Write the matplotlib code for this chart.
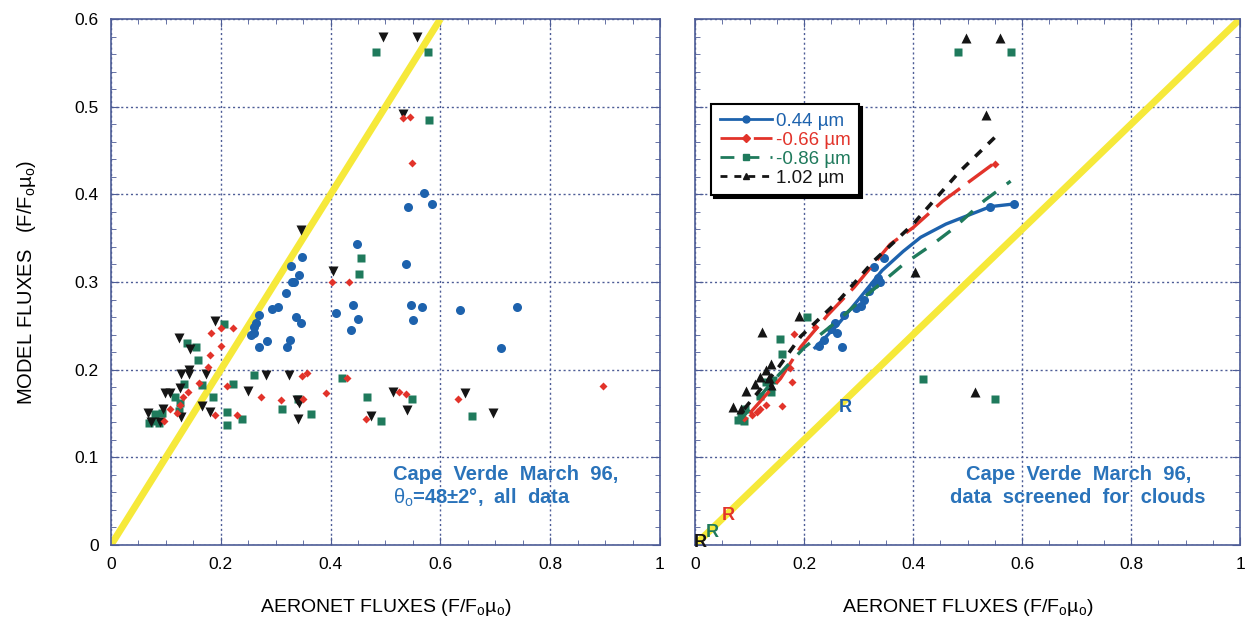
import numpy as np
import matplotlib
matplotlib.use('Agg')
import matplotlib.pyplot as plt
from matplotlib.lines import Line2D
from matplotlib.ticker import MultipleLocator, FuncFormatter

plt.rcParams['font.family'] = ['Liberation Sans', 'DejaVu Sans']
plt.rcParams['mathtext.fontset'] = 'custom'
plt.rcParams['mathtext.rm'] = 'Liberation Sans'
plt.rcParams['mathtext.it'] = 'Liberation Sans'

# ---- left panel: all data ----
l_blue_x = [0.570, 0.541, 0.585, 0.448, 0.348, 0.328, 0.537, 0.343, 0.329, 0.333, 0.319, 0.293, 0.305,
            0.270, 0.337, 0.346, 0.265, 0.261, 0.260, 0.285, 0.269, 0.326, 0.321, 0.410, 0.440, 0.450,
            0.437, 0.546, 0.566, 0.550, 0.635, 0.739, 0.711, 0.255]
l_blue_y = [0.401, 0.386, 0.389, 0.343, 0.328, 0.318, 0.321, 0.308, 0.300, 0.300, 0.288, 0.269, 0.271,
            0.262, 0.260, 0.253, 0.253, 0.249, 0.242, 0.233, 0.226, 0.234, 0.226, 0.265, 0.274, 0.258,
            0.245, 0.274, 0.271, 0.257, 0.268, 0.272, 0.225, 0.240]

l_red_x = [0.532, 0.545, 0.548, 0.402, 0.434, 0.182, 0.201, 0.223, 0.201, 0.181, 0.177, 0.348, 0.357,
           0.429, 0.212, 0.274, 0.131, 0.309, 0.350, 0.392, 0.525, 0.537, 0.632, 0.896, 0.465, 0.230,
           0.190, 0.108, 0.097, 0.125, 0.160, 0.140, 0.120]
l_red_y = [0.487, 0.488, 0.436, 0.300, 0.300, 0.242, 0.247, 0.248, 0.227, 0.217, 0.203, 0.193, 0.196,
           0.190, 0.181, 0.169, 0.169, 0.165, 0.167, 0.173, 0.175, 0.172, 0.166, 0.181, 0.144, 0.148,
           0.148, 0.155, 0.142, 0.160, 0.185, 0.175, 0.150]

l_green_x = [0.482, 0.577, 0.579, 0.456, 0.451, 0.205, 0.139, 0.155, 0.158, 0.133, 0.165, 0.261, 0.420,
             0.222, 0.185, 0.117, 0.126, 0.341, 0.466, 0.549, 0.657, 0.492, 0.365, 0.312, 0.238, 0.212,
             0.212, 0.124, 0.081, 0.093, 0.075, 0.088, 0.070]
l_green_y = [0.562, 0.562, 0.485, 0.327, 0.309, 0.252, 0.230, 0.226, 0.211, 0.184, 0.183, 0.194, 0.190,
             0.184, 0.169, 0.169, 0.162, 0.167, 0.169, 0.167, 0.147, 0.141, 0.149, 0.155, 0.144, 0.152,
             0.137, 0.153, 0.149, 0.151, 0.141, 0.139, 0.139]

l_black_x = [0.495, 0.558, 0.532, 0.346, 0.404, 0.190, 0.123, 0.143, 0.142, 0.142, 0.127, 0.173, 0.282,
             0.324, 0.250, 0.099, 0.108, 0.125, 0.338, 0.343, 0.513, 0.645, 0.696, 0.539, 0.474, 0.341,
             0.180, 0.165, 0.127, 0.067, 0.073, 0.089, 0.094]
l_black_y = [0.580, 0.579, 0.492, 0.359, 0.313, 0.255, 0.236, 0.223, 0.200, 0.195, 0.195, 0.195, 0.194,
             0.194, 0.176, 0.173, 0.173, 0.179, 0.165, 0.162, 0.175, 0.173, 0.150, 0.154, 0.147, 0.144,
             0.152, 0.159, 0.146, 0.151, 0.140, 0.140, 0.155]

# ---- right panel: screened for clouds ----
r_blue_x = [0.585, 0.542, 0.347, 0.328, 0.335, 0.330, 0.340, 0.305, 0.295, 0.273, 0.256, 0.250, 0.227,
            0.269, 0.260, 0.236, 0.310, 0.320]
r_blue_y = [0.389, 0.386, 0.327, 0.317, 0.305, 0.298, 0.300, 0.273, 0.270, 0.262, 0.253, 0.246, 0.227,
            0.226, 0.242, 0.234, 0.280, 0.290]

r_red_x = [0.182, 0.221, 0.175, 0.177, 0.159, 0.114, 0.104, 0.130, 0.120, 0.090, 0.550]
r_red_y = [0.241, 0.249, 0.202, 0.186, 0.159, 0.152, 0.148, 0.160, 0.155, 0.145, 0.435]

r_green_x = [0.482, 0.579, 0.419, 0.550, 0.205, 0.156, 0.159, 0.143, 0.130, 0.091, 0.078, 0.089, 0.085,
             0.140, 0.120]
r_green_y = [0.562, 0.562, 0.189, 0.166, 0.260, 0.235, 0.218, 0.188, 0.186, 0.155, 0.143, 0.142, 0.148,
             0.175, 0.170]

r_black_x = [0.497, 0.559, 0.533, 0.404, 0.513, 0.190, 0.123, 0.139, 0.130, 0.120, 0.110, 0.094, 0.070,
             0.084, 0.139, 0.135]
r_black_y = [0.578, 0.578, 0.491, 0.311, 0.174, 0.261, 0.243, 0.206, 0.200, 0.192, 0.184, 0.176, 0.157,
             0.155, 0.182, 0.190]

# fitted curves
fit_blue_x = [0.22, 0.26, 0.30, 0.343, 0.382, 0.414, 0.46, 0.505, 0.542, 0.585]
fit_blue_y = [0.225, 0.250, 0.280, 0.313, 0.335, 0.351, 0.366, 0.377, 0.386, 0.389]
fit_red_x = [0.10, 0.157, 0.194, 0.243, 0.292, 0.358, 0.40, 0.454, 0.55]
fit_red_y = [0.150, 0.190, 0.226, 0.262, 0.294, 0.343, 0.362, 0.392, 0.436]
fit_green_x = [0.08, 0.14, 0.20, 0.26, 0.317, 0.382, 0.436, 0.472, 0.531, 0.579]
fit_green_y = [0.140, 0.185, 0.225, 0.255, 0.286, 0.320, 0.343, 0.360, 0.393, 0.415]
fit_black_x = [0.09, 0.15, 0.194, 0.267, 0.328, 0.40, 0.484, 0.555]
fit_black_y = [0.155, 0.200, 0.238, 0.281, 0.324, 0.366, 0.425, 0.468]

# reference lines
left_ref_x = [0, 0.6]
left_ref_y = [0, 0.6]
right_ref_x = [0, 1.0]
right_ref_y = [0, 0.6]

# "R" markers
rmark_x = [0.276, 0.061, 0.031, 0.009]
rmark_y = [0.157, 0.034, 0.014, 0.003]

wavelengths = ['0.44 µm', '-0.66 µm', '-0.86 µm', '1.02 µm']

BLUE = '#1d62ad'
RED = '#e2332a'
GREEN = '#1f7a5c'
BLACK = '#151515'
YELLOW = '#f6e93a'
TXTBLUE = '#2a73ba'
AXC = '#4d5c96'

fig = plt.figure(figsize=(12.53, 6.27), dpi=100)
axL = fig.add_axes([0.0886, 0.1308, 0.4381, 0.8389])
axR = fig.add_axes([0.5547, 0.1308, 0.4350, 0.8389])

fmt = FuncFormatter(lambda v, p: '%g' % round(v, 2))
for ax in (axL, axR):
    ax.set_xlim(0, 1)
    ax.set_ylim(0, 0.6)
    ax.xaxis.set_major_locator(MultipleLocator(0.2))
    ax.xaxis.set_minor_locator(MultipleLocator(0.05))
    ax.yaxis.set_major_locator(MultipleLocator(0.1))
    ax.yaxis.set_minor_locator(MultipleLocator(0.02))
    ax.xaxis.set_major_formatter(fmt)
    ax.yaxis.set_major_formatter(fmt)
    ax.tick_params(which='both', direction='in', top=True, right=True, color=AXC, labelsize=12.5, pad=9)
    ax.tick_params(which='major', length=6)
    ax.tick_params(which='minor', length=3.5)
    ax.grid(True, which='major', linestyle=(0, (1.5, 2)), color=AXC, linewidth=1.0)
    for s in ax.spines.values():
        s.set_color(AXC)
        s.set_linewidth(1.2)
    ax.set_xlabel('AERONET FLUXES (F/F$_o$µ$_o$)', fontsize=14, labelpad=18)

axR.tick_params(labelleft=False)
axL.set_ylabel('MODEL FLUXES   (F/F$_o$µ$_o$)', fontsize=14.5, labelpad=26)

# left panel
axL.plot(left_ref_x, left_ref_y, color=YELLOW, lw=5, solid_capstyle='butt', zorder=2)
axL.plot(l_blue_x, l_blue_y, 'o', color=BLUE, ms=6.5, mec='none', zorder=3)
axL.plot(l_green_x, l_green_y, 's', color=GREEN, ms=6.2, mec='none', zorder=3)
axL.plot(l_black_x, l_black_y, 'v', color=BLACK, ms=6.5, mec='none', zorder=3)
axL.plot(l_red_x, l_red_y, 'D', color=RED, ms=3.8, mec='none', zorder=4)
axL.text(0.514, 0.080, 'Cape  Verde  March  96,', color=TXTBLUE, fontsize=14.5, fontweight='bold',
         va='center', ha='left')
axL.text(0.514, 0.054, r'$\theta_o$=48±2°,  all  data', color=TXTBLUE, fontsize=14.5, fontweight='bold',
         va='center', ha='left')

# right panel
axR.plot(right_ref_x, right_ref_y, color=YELLOW, lw=5, solid_capstyle='butt', zorder=2)
axR.plot(r_blue_x, r_blue_y, 'o', color=BLUE, ms=6.5, mec='none', zorder=3)
axR.plot(r_green_x, r_green_y, 's', color=GREEN, ms=6.2, mec='none', zorder=3)
axR.plot(r_black_x, r_black_y, '^', color=BLACK, ms=6.5, mec='none', zorder=3)
axR.plot(r_red_x, r_red_y, 'D', color=RED, ms=4.5, mec='none', zorder=4)
axR.plot(fit_blue_x, fit_blue_y, '-', color=BLUE, lw=2.4, zorder=5)
axR.plot(fit_red_x, fit_red_y, color=RED, lw=2.4, dashes=(9, 3), zorder=5)
axR.plot(fit_green_x, fit_green_y, color=GREEN, lw=2.4, dashes=(5, 4), zorder=5)
axR.plot(fit_black_x, fit_black_y, color=BLACK, lw=2.6, dashes=(2.5, 2.5), zorder=5)
rcols = [BLUE, RED, GREEN, BLACK]
for x, y, c in zip(rmark_x, rmark_y, rcols):
    axR.text(x, y, 'R', color=c, fontsize=13, fontweight='bold', ha='center', va='center', zorder=6)
axR.text(0.703, 0.080, 'Cape  Verde  March  96,', color=TXTBLUE,
         fontsize=14.5, fontweight='bold', ha='center', va='center')
axR.text(0.703, 0.054, 'data  screened  for  clouds', color=TXTBLUE,
         fontsize=14.5, fontweight='bold', ha='center', va='center')

handles = [
    Line2D([], [], color=BLUE, lw=2, marker='o', ms=5),
    Line2D([], [], color=RED, lw=2, marker='D', ms=4, dashes=(9, 3)),
    Line2D([], [], color=GREEN, lw=2, marker='s', ms=5, dashes=(5, 4)),
    Line2D([], [], color=BLACK, lw=2, marker='^', ms=5, dashes=(2.5, 2.5)),
]
leg = axR.legend(handles, wavelengths, loc='upper left', bbox_to_anchor=(0.03, 0.838), fontsize=13.5,
                 frameon=True, fancybox=False, shadow={'color': 'black', 'alpha': 1}, handlelength=2.8,
                 handletextpad=0.2, labelspacing=0.1, borderpad=0.45, borderaxespad=0)
leg.get_frame().set_edgecolor('black')
leg.get_frame().set_linewidth(1.5)
for t, c in zip(leg.get_texts(), rcols):
    t.set_color(c)

fig.savefig('out.png', dpi=100)
